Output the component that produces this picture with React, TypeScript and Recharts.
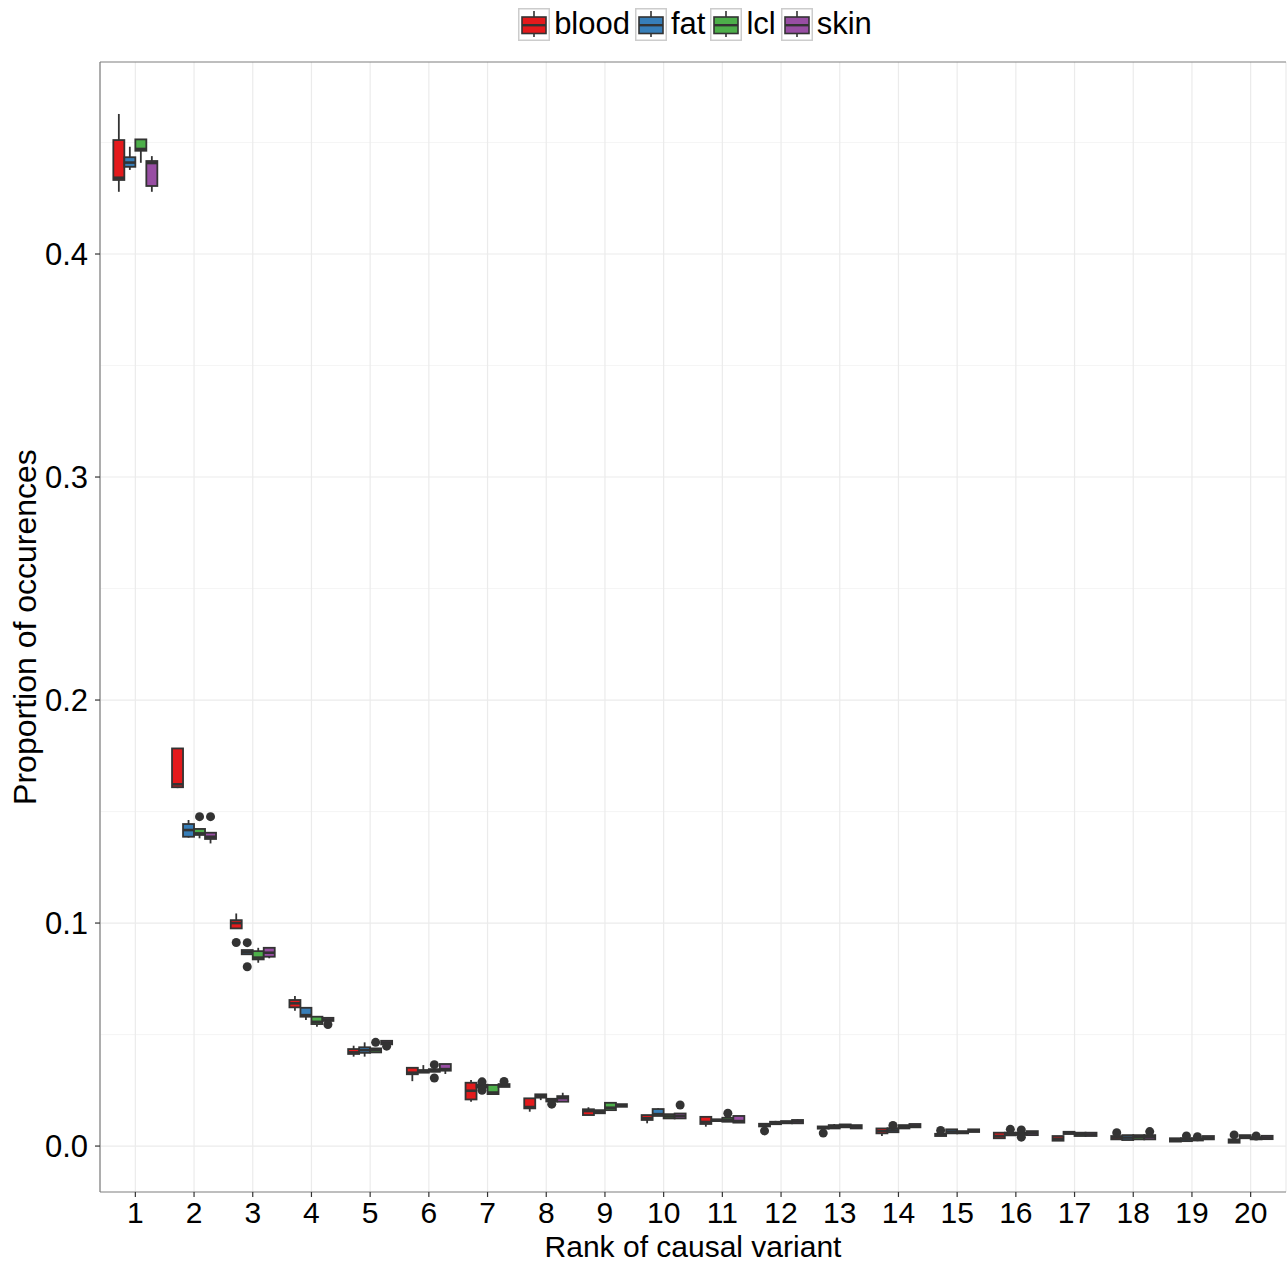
import { Bar, BarChart, CartesianGrid, Legend, ReferenceLine, XAxis, YAxis } from 'recharts';

// each box: [lower whisker, q1, median, q3, upper whisker]
type Box = [number, number, number, number, number];

const ranks = ['1', '2', '3', '4', '5', '6', '7', '8', '9', '10', '11', '12', '13', '14', '15', '16', '17', '18', '19', '20'];
const tissues = ['blood', 'fat', 'lcl', 'skin'];
const colors = ['#E41A1C', '#377EB8', '#4DAF4A', '#984EA3'];

const yTicks = [0, 0.1, 0.2, 0.3, 0.4];
const yMinor = [0.05, 0.15, 0.25, 0.35, 0.45];

const blood: Box[] = [
    [0.4279, 0.4332, 0.4342, 0.4511, 0.4628],
    [0.1605, 0.1609, 0.1622, 0.1783, 0.1783],
    [0.0976, 0.0976, 0.1000, 0.1013, 0.1043],
    [0.0607, 0.0622, 0.0640, 0.0655, 0.0673],
    [0.0401, 0.0413, 0.0420, 0.0435, 0.0450],
    [0.0291, 0.0322, 0.0329, 0.0351, 0.0351],
    [0.0199, 0.0209, 0.0248, 0.0284, 0.0296],
    [0.0154, 0.0169, 0.0175, 0.0214, 0.0214],
    [0.0139, 0.0139, 0.0157, 0.0165, 0.0174],
    [0.0102, 0.0117, 0.0125, 0.0139, 0.0139],
    [0.0087, 0.0099, 0.0108, 0.0131, 0.0131],
    [0.0088, 0.0088, 0.0094, 0.0100, 0.0100],
    [0.0078, 0.0078, 0.0083, 0.0088, 0.0088],
    [0.0045, 0.0057, 0.0067, 0.0079, 0.0079],
    [0.0045, 0.0045, 0.0050, 0.0055, 0.0055],
    [0.0035, 0.0035, 0.0045, 0.0060, 0.0060],
    [0.0024, 0.0024, 0.0033, 0.0045, 0.0045],
    [0.0030, 0.0030, 0.0038, 0.0045, 0.0045],
    [0.0020, 0.0020, 0.0027, 0.0035, 0.0035],
    [0.0015, 0.0015, 0.0022, 0.0030, 0.0030],
];
const bloodOut: number[][] = [
    [], [], [0.0913], [], [], [], [], [], [], [],
    [], [0.0068], [0.0058], [], [0.0070], [], [], [0.0060], [], [0.0050],
];

const fat: Box[] = [
    [0.4377, 0.4391, 0.4410, 0.4434, 0.4481],
    [0.1383, 0.1387, 0.1417, 0.1444, 0.1462],
    [0.0860, 0.0860, 0.0869, 0.0879, 0.0879],
    [0.0565, 0.0580, 0.0587, 0.0620, 0.0620],
    [0.0401, 0.0418, 0.0430, 0.0443, 0.0465],
    [0.0329, 0.0329, 0.0335, 0.0341, 0.0363],
    [0.0262, 0.0262, 0.0268, 0.0275, 0.0275],
    [0.0206, 0.0217, 0.0225, 0.0232, 0.0232],
    [0.0147, 0.0147, 0.0152, 0.0161, 0.0161],
    [0.0135, 0.0135, 0.0143, 0.0166, 0.0170],
    [0.0112, 0.0112, 0.0116, 0.0120, 0.0120],
    [0.0098, 0.0098, 0.0103, 0.0109, 0.0113],
    [0.0079, 0.0079, 0.0086, 0.0094, 0.0099],
    [0.0062, 0.0062, 0.0070, 0.0080, 0.0080],
    [0.0057, 0.0057, 0.0065, 0.0075, 0.0075],
    [0.0048, 0.0048, 0.0055, 0.0060, 0.0060],
    [0.0054, 0.0054, 0.0059, 0.0064, 0.0064],
    [0.0027, 0.0027, 0.0038, 0.0049, 0.0049],
    [0.0022, 0.0022, 0.0030, 0.0035, 0.0035],
    [0.0035, 0.0035, 0.0042, 0.0049, 0.0049],
];
const fatOut: number[][] = [
    [], [], [0.0912, 0.0804], [], [], [], [0.0288, 0.0250], [], [], [],
    [], [], [], [0.0092], [], [0.0075], [], [], [0.0045], [],
];

const lcl: Box[] = [
    [0.4409, 0.4463, 0.4471, 0.4514, 0.4514],
    [0.1380, 0.1395, 0.1402, 0.1422, 0.1422],
    [0.0822, 0.0837, 0.0845, 0.0874, 0.0889],
    [0.0535, 0.0547, 0.0557, 0.0580, 0.0580],
    [0.0420, 0.0420, 0.0430, 0.0438, 0.0438],
    [0.0333, 0.0333, 0.0338, 0.0345, 0.0345],
    [0.0233, 0.0233, 0.0240, 0.0274, 0.0274],
    [0.0200, 0.0200, 0.0206, 0.0212, 0.0212],
    [0.0161, 0.0161, 0.0172, 0.0194, 0.0194],
    [0.0124, 0.0124, 0.0133, 0.0143, 0.0143],
    [0.0109, 0.0109, 0.0117, 0.0127, 0.0127],
    [0.0102, 0.0102, 0.0107, 0.0112, 0.0112],
    [0.0084, 0.0084, 0.0090, 0.0097, 0.0097],
    [0.0079, 0.0079, 0.0086, 0.0094, 0.0094],
    [0.0057, 0.0057, 0.0062, 0.0067, 0.0067],
    [0.0050, 0.0050, 0.0055, 0.0060, 0.0060],
    [0.0045, 0.0045, 0.0053, 0.0060, 0.0060],
    [0.0030, 0.0030, 0.0040, 0.0049, 0.0049],
    [0.0025, 0.0025, 0.0030, 0.0035, 0.0035],
    [0.0030, 0.0030, 0.0035, 0.0040, 0.0040],
];
const lclOut: number[][] = [
    [], [0.1477], [], [], [0.0465], [0.0365, 0.0305], [], [0.0188], [], [],
    [0.0147], [], [], [], [], [0.0072, 0.0040], [], [], [0.0042], [0.0045],
];

const skin: Box[] = [
    [0.4279, 0.4305, 0.4408, 0.4417, 0.4439],
    [0.1357, 0.1377, 0.1387, 0.1405, 0.1405],
    [0.0842, 0.0849, 0.0867, 0.0889, 0.0889],
    [0.0561, 0.0561, 0.0567, 0.0575, 0.0575],
    [0.0456, 0.0456, 0.0464, 0.0472, 0.0472],
    [0.0323, 0.0338, 0.0345, 0.0368, 0.0368],
    [0.0265, 0.0265, 0.0272, 0.0278, 0.0278],
    [0.0199, 0.0199, 0.0215, 0.0224, 0.0239],
    [0.0176, 0.0176, 0.0182, 0.0188, 0.0188],
    [0.0124, 0.0124, 0.0135, 0.0146, 0.0146],
    [0.0105, 0.0105, 0.0112, 0.0135, 0.0135],
    [0.0102, 0.0102, 0.0110, 0.0117, 0.0120],
    [0.0079, 0.0079, 0.0087, 0.0094, 0.0094],
    [0.0084, 0.0084, 0.0090, 0.0099, 0.0099],
    [0.0063, 0.0063, 0.0069, 0.0075, 0.0075],
    [0.0049, 0.0049, 0.0058, 0.0067, 0.0067],
    [0.0045, 0.0045, 0.0052, 0.0060, 0.0060],
    [0.0030, 0.0030, 0.0040, 0.0049, 0.0049],
    [0.0030, 0.0030, 0.0037, 0.0045, 0.0045],
    [0.0031, 0.0031, 0.0038, 0.0046, 0.0046],
];
const skinOut: number[][] = [
    [], [0.1477], [], [0.0545], [0.0448], [], [0.0290], [], [], [0.0184],
    [], [], [], [], [], [], [], [0.0065], [], [],
];

const boxes: Record<string, Box[]> = { blood, fat, lcl, skin };
const outliers: Record<string, number[][]> = { blood: bloodOut, fat: fatOut, lcl: lclOut, skin: skinOut };

const data = ranks.map((rank, i) => {
    const row: any = { rank };
    tissues.forEach((t) => {
        row[t] = { box: boxes[t][i], out: outliers[t][i] };
    });
    return row;
});

// full extent of a box (whiskers + outliers), used as the bar's range
const extent = (s: { box: Box; out: number[] }) => [
    Math.min(s.box[0], ...s.out),
    Math.max(s.box[4], ...s.out),
];

const LINE = '#333333';
const BORDER = '#7f7f7f';
const FONT = '"Liberation Sans", Arial, Helvetica, sans-serif';

function BoxShape(props: any) {
    const { x, y, width, height, payload, tissue, color } = props;
    const s = payload[tissue];
    const [lo, q1, med, q3, hi] = s.box;
    const [rLo, rHi] = extent(s);
    // bar spans rLo..rHi, so map values linearly inside it
    const toY = (v: number) => (rHi === rLo ? y : y + ((rHi - v) / (rHi - rLo)) * height);
    const cx = x + width / 2;
    const yq3 = toY(q3);
    const yq1 = toY(q1);
    return (
        <g>
            <line x1={cx} x2={cx} y1={toY(hi)} y2={yq3} stroke={LINE} strokeWidth={1.8} />
            <line x1={cx} x2={cx} y1={yq1} y2={toY(lo)} stroke={LINE} strokeWidth={1.8} />
            <rect
                x={x}
                y={yq3}
                width={width}
                height={Math.max(yq1 - yq3, 0.5)}
                fill={color}
                stroke={LINE}
                strokeWidth={1.8}
            />
            <line x1={x} x2={x + width} y1={toY(med)} y2={toY(med)} stroke={LINE} strokeWidth={2.6} />
            {s.out.map((v: number, k: number) => (
                <circle key={k} cx={cx} cy={toY(v)} r={4.5} fill={LINE} />
            ))}
        </g>
    );
}

function LegendKey({ color }: { color: string }) {
    return (
        <svg width={32} height={33} style={{ display: 'block' }}>
            <rect x={0.75} y={0.75} width={30.5} height={31.5} fill="#fff" stroke="#cccccc" strokeWidth={1.5} />
            <line x1={16} x2={16} y1={3} y2={29} stroke={LINE} strokeWidth={1.6} />
            <rect x={4} y={9} width={24} height={16.5} fill={color} stroke={LINE} strokeWidth={1.6} />
            <line x1={4} x2={28} y1={17.2} y2={17.2} stroke={LINE} strokeWidth={2.4} />
        </svg>
    );
}

const renderLegend = () => (
    <div
        style={{
            display: 'flex',
            justifyContent: 'center',
            alignItems: 'center',
            height: 36,
            fontSize: 31,
            fontFamily: FONT,
            color: '#000',
        }}
    >
        {tissues.map((t, i) => (
            <div key={t} style={{ display: 'flex', alignItems: 'center', marginRight: i < tissues.length - 1 ? 5 : 0 }}>
                <LegendKey color={colors[i]} />
                <span style={{ marginLeft: 4, lineHeight: '36px' }}>{t}</span>
            </div>
        ))}
    </div>
);

const yDomain = [-0.0206, 0.4861];

export default function App() {
    return (
        <div style={{ position: 'absolute', left: 0, top: 0, background: '#fff', fontFamily: FONT }}>
            <BarChart
                width={1288}
                height={1264}
                data={data}
                margin={{ top: 26, right: 2, bottom: 0, left: 0 }}
                barCategoryGap="12.5%"
                barGap={0}
            >
                <CartesianGrid horizontalValues={yMinor} vertical={false} stroke="#f3f3f3" strokeWidth={0.8} />
                <CartesianGrid horizontalValues={yTicks} stroke="#ebebeb" strokeWidth={1.2} />
                <Legend
                    verticalAlign="top"
                    content={renderLegend}
                    wrapperStyle={{ top: 6, left: 102, width: 1186 }}
                />
                <XAxis
                    dataKey="rank"
                    interval={0}
                    height={72}
                    padding={{ left: 6, right: 6 }}
                    tickSize={5}
                    tickMargin={5}
                    tick={{ fill: '#000', fontSize: 30, fontFamily: FONT }}
                    tickLine={{ stroke: LINE, strokeWidth: 1.2 }}
                    axisLine={{ stroke: BORDER, strokeWidth: 1.2 }}
                    label={{
                        value: 'Rank of causal variant',
                        position: 'insideBottom',
                        offset: 7,
                        style: { fontSize: 30, fill: '#000', fontFamily: FONT },
                    }}
                />
                <YAxis
                    type="number"
                    domain={yDomain}
                    allowDataOverflow
                    ticks={yTicks}
                    tickFormatter={(v: number) => v.toFixed(1)}
                    width={100}
                    tickSize={5}
                    tickMargin={7}
                    tick={{ fill: '#000', fontSize: 31, fontFamily: FONT }}
                    tickLine={{ stroke: LINE, strokeWidth: 1.2 }}
                    axisLine={{ stroke: BORDER, strokeWidth: 1.2 }}
                    label={{
                        value: 'Proportion of occurences',
                        angle: -90,
                        position: 'insideLeft',
                        offset: 25,
                        style: { textAnchor: 'middle', fontSize: 32, fill: '#000', fontFamily: FONT },
                    }}
                />
                <YAxis
                    yAxisId="right"
                    orientation="right"
                    type="number"
                    domain={yDomain}
                    allowDataOverflow
                    width={0}
                    tick={false}
                    tickLine={false}
                    axisLine={{ stroke: BORDER, strokeWidth: 1.2 }}
                />
                <ReferenceLine y={yDomain[1]} stroke={BORDER} strokeWidth={1.2} />
                {tissues.map((t, i) => (
                    <Bar
                        key={t}
                        name={t}
                        dataKey={(d: any) => extent(d[t])}
                        fill={colors[i]}
                        isAnimationActive={false}
                        shape={(p: any) => <BoxShape {...p} tissue={t} color={colors[i]} />}
                    />
                ))}
            </BarChart>
        </div>
    );
}
